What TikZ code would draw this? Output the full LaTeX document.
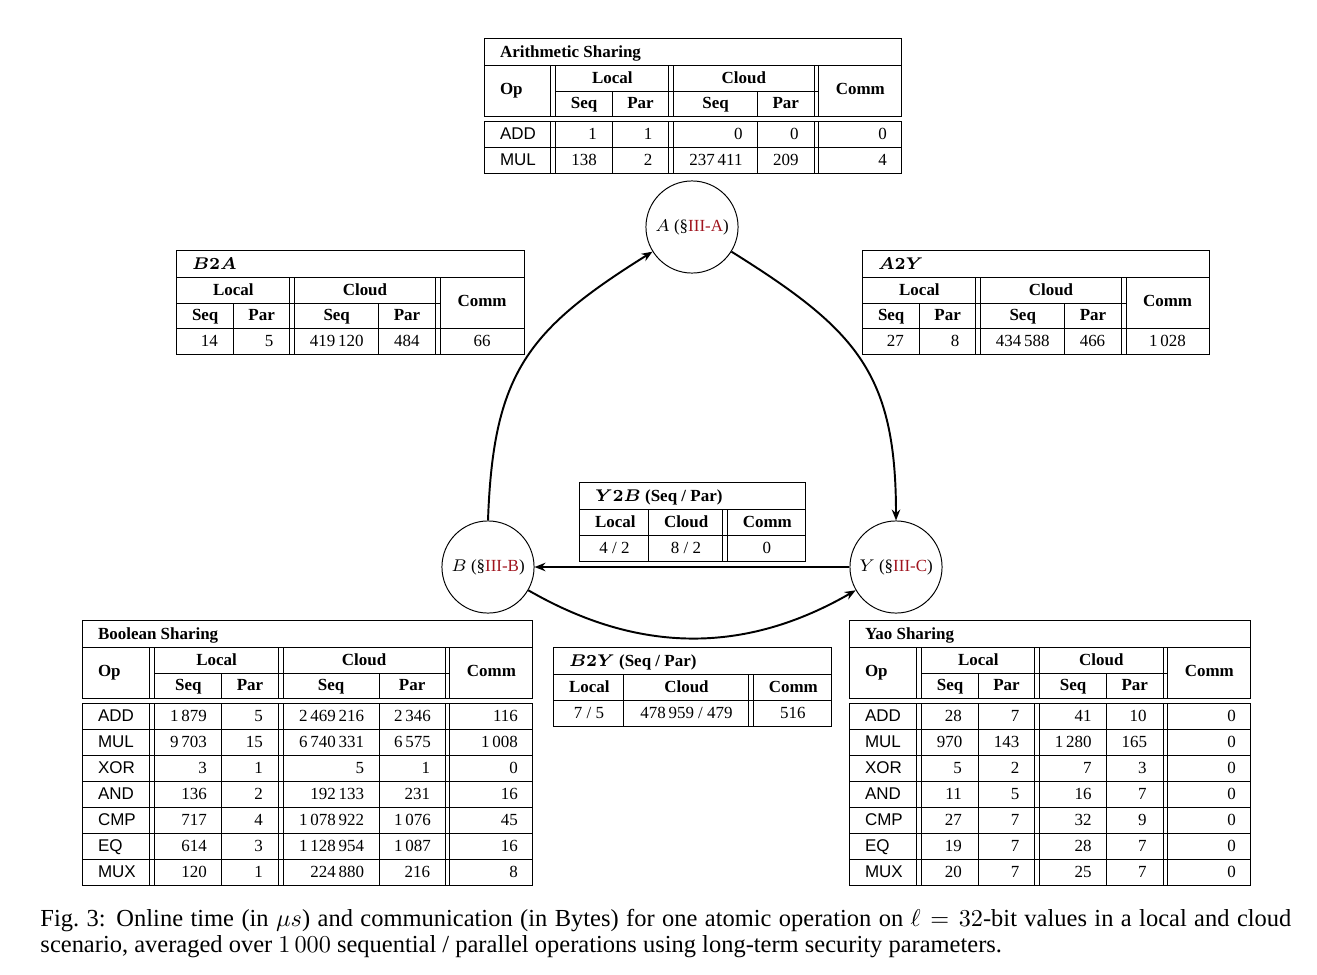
\documentclass[tikz,border=0pt]{standalone}
\usepackage{amsmath,amssymb}
\usepackage{xcolor}
\usepackage{fontspec}
\setmainfont{Liberation Serif}
\setsansfont{Liberation Sans}
\usepackage{array,multirow}
\usepackage{tikz}
\usetikzlibrary{positioning,calc,arrows.meta}

\newlength\px
\setlength\px{0.4125pt}
\setlength\tabcolsep{6pt}
\setlength\doublerulesep{1.6pt}
\renewcommand\arraystretch{1.22}
\newcolumntype{L}[1]{>{\sffamily}p{\dimexpr#1\px-2\tabcolsep-\arrayrulewidth\relax}}
\newcolumntype{R}[1]{>{\raggedleft\arraybackslash}p{\dimexpr#1\px-2\tabcolsep-\arrayrulewidth\relax}}
\newcolumntype{C}[1]{>{\centering\arraybackslash}p{\dimexpr#1\px-2\tabcolsep-\arrayrulewidth\relax}}
\newcommand\hd[2]{\multicolumn{1}{#1}{\textbf{#2}}}
\definecolor{secred}{RGB}{160,20,30}

\begin{document}
\begin{tikzpicture}[x=0.4125pt, y=0.4125pt,
    tbl/.style={anchor=north west, inner sep=0pt, font=\fontsize{7}{8.5}\selectfont},
    share/.style={draw, circle, minimum size=38pt, inner sep=0pt, font=\fontsize{7}{8.5}\selectfont},
    conn/.style={-{Stealth[length=4.5pt,width=3.5pt]}, line width=0.8pt}]
    \useasboundingbox (0,0) rectangle (1317,-974);

    \node[tbl] (arith) at (484,-38) {%
    \begin{tabular}{|L{66}||R{56}|R{55}||R{84}|R{56}||R{83}|}
    \hline
    \multicolumn{6}{|l|}{\textbf{Arithmetic Sharing}} \\ \hline
    \multirow{2}{*}{\normalfont\bfseries Op} & \multicolumn{2}{c||}{\textbf{Local}} & \multicolumn{2}{c||}{\textbf{Cloud}} & \multicolumn{1}{c|}{\multirow{2}{*}{\textbf{Comm}}} \\ \cline{2-5}
     & \hd{c|}{Seq} & \hd{c||}{Par} & \hd{c|}{Seq} & \hd{c||}{Par} & \multicolumn{1}{c|}{} \\ \hline\hline
    ADD & 1 & 1 & 0 & 0 & 0 \\ \hline
    MUL & 138 & 2 & 237\,411 & 209 & 4 \\ \hline
    \end{tabular}};

    \node[tbl] (btoa) at (176,-250) {%
    \begin{tabular}{|R{56}|R{55}||R{84}|R{56}||C{84}|}
    \hline
    \multicolumn{5}{|l|}{$\boldsymbol{B2A}$} \\ \hline
    \multicolumn{2}{|c||}{\textbf{Local}} & \multicolumn{2}{c||}{\textbf{Cloud}} & \multirow{2}{*}{\textbf{Comm}} \\ \cline{1-4}
    \hd{|c|}{Seq} & \hd{c||}{Par} & \hd{c|}{Seq} & \hd{c||}{Par} & \\ \hline
    14 & 5 & 419\,120 & 484 & 66 \\ \hline
    \end{tabular}};

    \node[tbl] (atoy) at (862,-250) {%
    \begin{tabular}{|R{56}|R{55}||R{84}|R{55}||C{83}|}
    \hline
    \multicolumn{5}{|l|}{$\boldsymbol{A2Y}$} \\ \hline
    \multicolumn{2}{|c||}{\textbf{Local}} & \multicolumn{2}{c||}{\textbf{Cloud}} & \multirow{2}{*}{\textbf{Comm}} \\ \cline{1-4}
    \hd{|c|}{Seq} & \hd{c||}{Par} & \hd{c|}{Seq} & \hd{c||}{Par} & \\ \hline
    27 & 8 & 434\,588 & 466 & 1\,028 \\ \hline
    \end{tabular}};

    \node[tbl] (ytob) at (579,-482) {%
    \begin{tabular}{|C{69}|C{74}||C{78}|}
    \hline
    \multicolumn{3}{|l|}{$\boldsymbol{Y2B}$ \textbf{(Seq / Par)}} \\ \hline
    \textbf{Local} & \textbf{Cloud} & \textbf{Comm} \\ \hline
    4 / 2 & 8 / 2 & 0 \\ \hline
    \end{tabular}};

    \node[tbl] (btoy) at (553,-647) {%
    \begin{tabular}{|C{70}|C{125}||C{78}|}
    \hline
    \multicolumn{3}{|l|}{$\boldsymbol{B2Y}$ \textbf{(Seq / Par)}} \\ \hline
    \textbf{Local} & \textbf{Cloud} & \textbf{Comm} \\ \hline
    7 / 5 & 478\,959 / 479 & 516 \\ \hline
    \end{tabular}};

    \node[tbl] (bool) at (82,-620) {%
    \begin{tabular}{|L{67}||R{67}|R{56}||R{96}|R{66}||R{83}|}
    \hline
    \multicolumn{6}{|l|}{\textbf{Boolean Sharing}} \\ \hline
    \multirow{2}{*}{\normalfont\bfseries Op} & \multicolumn{2}{c||}{\textbf{Local}} & \multicolumn{2}{c||}{\textbf{Cloud}} & \multicolumn{1}{c|}{\multirow{2}{*}{\textbf{Comm}}} \\ \cline{2-5}
     & \hd{c|}{Seq} & \hd{c||}{Par} & \hd{c|}{Seq} & \hd{c||}{Par} & \multicolumn{1}{c|}{} \\ \hline\hline
    ADD & 1\,879 & 5 & 2\,469\,216 & 2\,346 & 116 \\ \hline
    MUL & 9\,703 & 15 & 6\,740\,331 & 6\,575 & 1\,008 \\ \hline
    XOR & 3 & 1 & 5 & 1 & 0 \\ \hline
    AND & 136 & 2 & 192\,133 & 231 & 16 \\ \hline
    CMP & 717 & 4 & 1\,078\,922 & 1\,076 & 45 \\ \hline
    EQ & 614 & 3 & 1\,128\,954 & 1\,087 & 16 \\ \hline
    MUX & 120 & 1 & 224\,880 & 216 & 8 \\ \hline
    \end{tabular}};

    \node[tbl] (yao) at (849,-620) {%
    \begin{tabular}{|L{67}||R{55}|R{56}||R{67}|R{55}||R{83}|}
    \hline
    \multicolumn{6}{|l|}{\textbf{Yao Sharing}} \\ \hline
    \multirow{2}{*}{\normalfont\bfseries Op} & \multicolumn{2}{c||}{\textbf{Local}} & \multicolumn{2}{c||}{\textbf{Cloud}} & \multicolumn{1}{c|}{\multirow{2}{*}{\textbf{Comm}}} \\ \cline{2-5}
     & \hd{c|}{Seq} & \hd{c||}{Par} & \hd{c|}{Seq} & \hd{c||}{Par} & \multicolumn{1}{c|}{} \\ \hline\hline
    ADD & 28 & 7 & 41 & 10 & 0 \\ \hline
    MUL & 970 & 143 & 1\,280 & 165 & 0 \\ \hline
    XOR & 5 & 2 & 7 & 3 & 0 \\ \hline
    AND & 11 & 5 & 16 & 7 & 0 \\ \hline
    CMP & 27 & 7 & 32 & 9 & 0 \\ \hline
    EQ & 19 & 7 & 28 & 7 & 0 \\ \hline
    MUX & 20 & 7 & 25 & 7 & 0 \\ \hline
    \end{tabular}};

    \node[share] (A) at (692,-227) {$A$ (\S\textcolor{secred}{III-A})};
    \node[share] (B) at (488,-567) {$B$ (\S\textcolor{secred}{III-B})};
    \node[share] (Y) at (896,-567) {$Y$ (\S\textcolor{secred}{III-C})};

    \draw[conn] (B.north) to[out=88, in=212, looseness=1.2] (A.212);
    \draw[conn] (A.-32) to[out=-32, in=90, looseness=1.2] (Y.north);
    \draw[conn] (Y.west) -- (B.east);
    \draw[conn] (B.-30) to[bend right=30] (Y.210);

    \node[anchor=north west, inner sep=0pt, text width=516pt, align=justify,
        font=\fontsize{10.1}{10.7}\selectfont] (cap) at (40,-909)
        {Fig.~3: Online time (in $\mu s$) and communication (in Bytes) for one atomic operation on $\ell = 32$-bit values in a local and cloud\linebreak scenario, averaged over $1\,000$ sequential / parallel operations using long-term security parameters.};
\end{tikzpicture}
\end{document}
